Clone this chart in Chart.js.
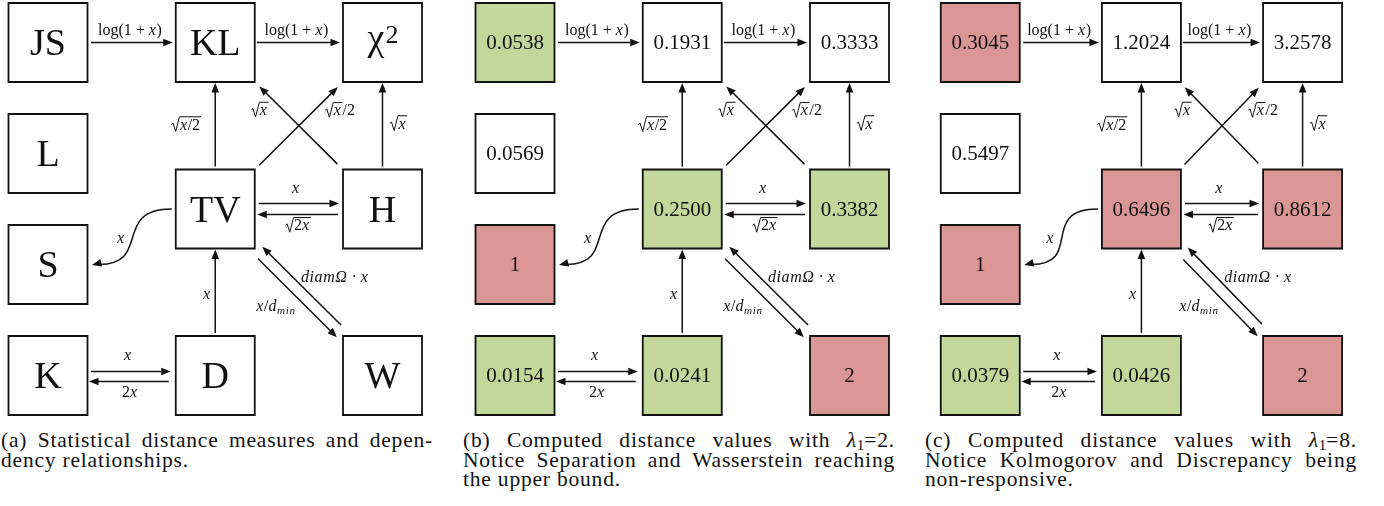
<!DOCTYPE html>
<html>
<head>
<meta charset="utf-8">
<script src="https://cdn.jsdelivr.net/npm/chart.js@4.4.1/dist/chart.umd.min.js"></script>
<style>
  body { margin: 0; background: #fff; width: 1384px; height: 506px; position: relative; overflow: hidden; }
  .panel { position: absolute; top: 0; }
  .cap { position: absolute; top: 431px; width: 432px; font-family: "Liberation Serif", serif; font-size: 21.5px; line-height: 19.5px; color: #111; letter-spacing: 0.8px; }
  .cap div { height: 19.5px; text-align: justify; text-align-last: justify; white-space: nowrap; }
  .cap div.last { text-align-last: left; }
  .cap sub { font-size: 70%; line-height: 0; vertical-align: -0.2em; letter-spacing: 0; }
</style>
</head>
<body>
<canvas id="panelA" class="panel" width="467" height="425" style="left:0px"></canvas>
<canvas id="panelB" class="panel" width="467" height="425" style="left:467px"></canvas>
<canvas id="panelC" class="panel" width="450" height="425" style="left:934px"></canvas>

<div class="cap" style="left:1px">
  <div>(a) Statistical distance measures and depen-</div>
  <div class="last">dency relationships.</div>
</div>
<div class="cap" style="left:463px">
  <div>(b) Computed distance values with <i>λ</i><sub>1</sub>=2.</div>
  <div>Notice Separation and Wasserstein reaching</div>
  <div class="last">the upper bound.</div>
</div>
<div class="cap" style="left:925px">
  <div>(c) Computed distance values with <i>λ</i><sub>1</sub>=8.</div>
  <div>Notice Kolmogorov and Discrepancy being</div>
  <div class="last">non-responsive.</div>
</div>

<script>
// --- data ---
const nodeNames = ['JS', 'KL', 'χ²', 'L', 'TV', 'H', 'S', 'K', 'D', 'W'];
const valuesLambda2 = [0.0538, 0.1931, 0.3333, 0.0569, 0.2500, 0.3382, 1, 0.0154, 0.0241, 2];
const valuesLambda8 = [0.3045, 1.2024, 3.2578, 0.5497, 0.6496, 0.8612, 1, 0.0379, 0.0426, 2];
// 'ok' = responsive (green), 'bad' = bound / non-responsive (red), '' = neutral
const statusLambda2 = ['ok', '', '', '', 'ok', 'ok', 'bad', 'ok', 'ok', 'bad'];
const statusLambda8 = ['bad', '', '', '', 'bad', 'bad', 'bad', 'ok', 'ok', 'bad'];

const edgeFrom = ['JS', 'KL', 'TV', 'H', 'TV', 'H', 'TV', 'H', 'D', 'TV', 'W', 'K', 'D', 'TV'];
const edgeTo = ['KL', 'χ²', 'KL', 'χ²', 'χ²', 'KL', 'H', 'TV', 'TV', 'W', 'TV', 'D', 'K', 'S'];
const edgeLabels = ['\\log(1 + x)', '\\log(1 + x)', '√{x/2}', '√{x}', '√{x}/2', '√{x}', 'x', '√{2x}', 'x', 'x/d_{min}', 'diamΩ · x', 'x', '2x', 'x'];

// --- layout (grid slots, not data) ---
const nodeCol = [0, 1, 2, 0, 1, 2, 0, 0, 1, 2];
const nodeRow = [0, 0, 0, 2, 3, 3, 4, 6, 6, 6];
// per-edge: perpendicular shift, trim at start, trim at end, label dx, label dy (px)
const edgeShift = [0, 0, 0, 0, 0, 0, -5.5, -5.5, 0, 5, 6.5, -4, -6, 0];
const edgeTrim = [[43, 42.5], [41.5, 42.5], [42.5, 40.5], [42.5, 40.5], [62, 63], [63.6, 62.2],
                  [43.5, 43.5], [44.5, 42], [42.5, 40.5], [65.4, 59.4], [65, 60], [43, 44.5], [46.5, 41], [43.5, 44]];
const labelShift = [[-2, -12.5], [-2, -12.5], [-29.5, 0], [15.5, -1], [41, -15.5], [-39, -15],
                    [-3, -15], [0, 11], [-8.5, 2.5], [-21.5, 8], [33, -9], [-3, -16], [1, 11], [-11, 1]];
const curvedEdges = ['TV>S'];

const fillFor = { ok: '#c4d79b', bad: '#d99694', '': '#ffffff' };
const ink = '#111111';

// --- tiny math-label renderer ---
function parseMath(s) {
    const out = [];
    let i = 0;
    while (i < s.length) {
        if (s.startsWith('\\log', i)) { out.push({ t: 'log', it: false }); i += 4; continue; }
        const ch = s[i];
        if (ch === '√' || ch === '_') {
            let k = i + 2, depth = 1;
            while (depth) { if (s[k] === '{') depth++; else if (s[k] === '}') depth--; k++; }
            out.push({ kind: ch === '√' ? 'sqrt' : 'sub', body: parseMath(s.slice(i + 2, k - 1)) });
            i = k;
            continue;
        }
        out.push({ t: ch, it: /[a-zA-ZΩλ]/.test(ch) });
        i++;
    }
    return out;
}

function mathFont(it, size) {
    return (it ? 'italic ' : '') + size + 'px "Liberation Serif", serif';
}

function measureMath(ctx, nodes, size) {
    let w = 0;
    nodes.forEach(n => {
        if (n.kind === 'sqrt') w += size * 0.6 + measureMath(ctx, n.body, size) + 1;
        else if (n.kind === 'sub') w += measureMath(ctx, n.body, size * 0.7);
        else { ctx.font = mathFont(n.it, size); w += ctx.measureText(n.t).width + (n.it ? 0.6 : 0); }
    });
    return w;
}

function drawMath(ctx, nodes, x, y, size) {
    nodes.forEach(n => {
        if (n.kind === 'sqrt') {
            const bw = measureMath(ctx, n.body, size);
            const rw = size * 0.6, top = y - size * 0.8;
            ctx.lineWidth = 1;
            ctx.beginPath();
            ctx.moveTo(x + 1, y - size * 0.32);
            ctx.lineTo(x + rw * 0.28, y - size * 0.4);
            ctx.lineTo(x + rw * 0.55, y + size * 0.12);
            ctx.lineTo(x + rw - 0.5, top);
            ctx.lineTo(x + rw + bw + 1, top);
            ctx.stroke();
            drawMath(ctx, n.body, x + rw, y, size);
            x += rw + bw + 1;
        } else if (n.kind === 'sub') {
            drawMath(ctx, n.body, x, y + size * 0.22, size * 0.7);
            x += measureMath(ctx, n.body, size * 0.7);
        } else {
            ctx.font = mathFont(n.it, size);
            ctx.fillText(n.t, x, y);
            x += ctx.measureText(n.t).width + (n.it ? 0.6 : 0);
        }
    });
}

function arrowHead(ctx, tx, ty, ux, uy) {
    const len = 9.5, half = 3.8;
    ctx.beginPath();
    ctx.moveTo(tx, ty);
    ctx.lineTo(tx - ux * len - uy * half, ty - uy * len + ux * half);
    ctx.lineTo(tx - ux * len + uy * half, ty - uy * len - ux * half);
    ctx.closePath();
    ctx.fill();
}

const edgesPlugin = {
    id: 'edges',
    afterDatasetsDraw(chart) {
        const { ctx, scales: { x: xs, y: ys } } = chart;
        const pos = name => {
            const i = nodeNames.indexOf(name);
            return [xs.getPixelForValue(nodeCol[i]), ys.getPixelForValue(nodeRow[i])];
        };
        ctx.save();
        ctx.strokeStyle = ink;
        ctx.fillStyle = ink;
        ctx.lineCap = 'butt';
        edgeFrom.forEach((from, e) => {
            const [ax, ay] = pos(from);
            const [bx, by] = pos(edgeTo[e]);
            let mx, my;
            ctx.lineWidth = 1.5;
            if (curvedEdges.includes(from + '>' + edgeTo[e])) {
                // sideways S-curve leaving the left side of one box into the right side of another
                const sx = ax - edgeTrim[e][0], sy = ay;
                const ex = bx + edgeTrim[e][1], ey = by;
                const c1x = sx - 60, c2x = ex + 60;
                ctx.beginPath();
                ctx.moveTo(sx, sy);
                ctx.bezierCurveTo(c1x, sy, c2x, ey, ex + 7, ey);
                ctx.stroke();
                arrowHead(ctx, ex, ey + 0.5, -0.97, 0.24);
                mx = (sx + 3 * c1x + 3 * c2x + ex) / 8;
                my = (sy + 3 * sy + 3 * ey + ey) / 8;
            } else {
                const len = Math.hypot(bx - ax, by - ay);
                const ux = (bx - ax) / len, uy = (by - ay) / len;
                const px = -uy * edgeShift[e], py = ux * edgeShift[e];
                const sx = ax + ux * edgeTrim[e][0] + px, sy = ay + uy * edgeTrim[e][0] + py;
                const tx = bx - ux * edgeTrim[e][1] + px, ty = by - uy * edgeTrim[e][1] + py;
                ctx.beginPath();
                ctx.moveTo(sx, sy);
                ctx.lineTo(tx - ux * 7, ty - uy * 7);
                ctx.stroke();
                arrowHead(ctx, tx, ty, ux, uy);
                mx = (sx + tx) / 2;
                my = (sy + ty) / 2;
            }
            const nodes = parseMath(edgeLabels[e]);
            const size = 16;
            const w = measureMath(ctx, nodes, size);
            drawMath(ctx, nodes, mx + labelShift[e][0] - w / 2, my + labelShift[e][1] + size * 0.3, size);
        });
        ctx.restore();
    }
};

const boxTextPlugin = {
    id: 'boxText',
    afterDatasetsDraw(chart, args, opts) {
        const { ctx } = chart;
        const pts = chart.getDatasetMeta(0).data;
        ctx.save();
        ctx.fillStyle = ink;
        ctx.textAlign = 'left';
        pts.forEach((pt, i) => {
            const label = opts.labels[i];
            const size = opts.size;
            ctx.font = size + 'px "Liberation Serif", serif';
            if (label.endsWith('²')) {
                const base = label.slice(0, -1);
                const bw = ctx.measureText(base).width;
                ctx.font = Math.round(size * 0.68) + 'px "Liberation Serif", serif';
                const sw = ctx.measureText('2').width;
                const x0 = pt.x - (bw + sw) / 2;
                ctx.fillText('2', x0 + bw + 1, pt.y + size * 0.02);
                ctx.font = size + 'px "Liberation Serif", serif';
                ctx.fillText(base, x0, pt.y + size * 0.2);
            } else {
                const w = ctx.measureText(label).width;
                ctx.fillText(label, pt.x - w / 2, pt.y + size * 0.33);
            }
        });
        ctx.restore();
    }
};

function fmt(v) {
    return Number.isInteger(v) ? String(v) : v.toFixed(4);
}

function drawPanel(id, labels, status, labelSize) {
    const boxSide = 79;
    new Chart(document.getElementById(id), {
        type: 'scatter',
        data: {
            datasets: [{
                data: nodeCol.map((c, i) => ({ x: c, y: nodeRow[i] })),
                pointStyle: 'rect',
                pointRadius: boxSide / 2 / Math.SQRT1_2,
                pointBackgroundColor: status.map(s => fillFor[s]),
                pointBorderColor: ink,
                pointBorderWidth: 1.8,
                clip: false
            }]
        },
        options: {
            responsive: false,
            animation: false,
            events: [],
            layout: { padding: 0, autoPadding: false },
            scales: {
                x: { type: 'linear', display: false, min: -48 / 167.25, max: (467 - 48) / 167.25 },
                y: { type: 'linear', display: false, reverse: true, min: -42.5 / 55.5, max: (425 - 42.5) / 55.5 }
            },
            plugins: {
                legend: { display: false },
                tooltip: { enabled: false },
                boxText: { labels: labels, size: labelSize }
            }
        },
        plugins: [edgesPlugin, boxTextPlugin]
    });
}

drawPanel('panelA', nodeNames, nodeNames.map(() => ''), 38);
drawPanel('panelB', valuesLambda2.map(fmt), statusLambda2, 21);
drawPanel('panelC', valuesLambda8.map(fmt), statusLambda8, 21);
</script>
</body>
</html>
